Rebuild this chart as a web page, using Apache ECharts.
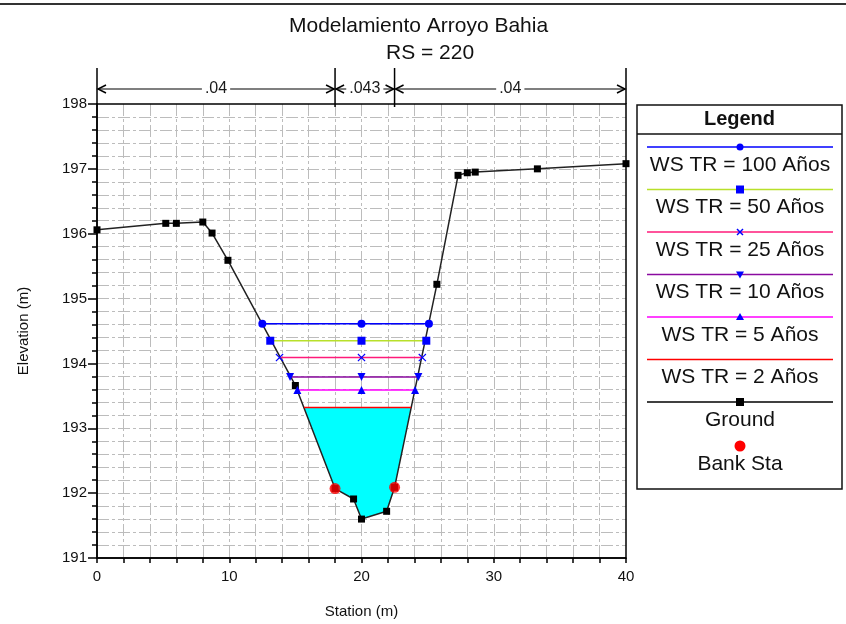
<!DOCTYPE html>
<html>
<head>
<meta charset="utf-8">
<script src="https://cdn.jsdelivr.net/npm/echarts@6/dist/echarts.min.js"></script>
<style>
  html, body { margin: 0; padding: 0; background: #fff; }
  #main { width: 846px; height: 624px; }
</style>
</head>
<body>
<div id="main"></div>
<script>
// ground profile (station m, elevation m)
var groundX = [0, 5.2, 6, 8, 8.7, 9.9, 15, 18, 19.4, 20, 21.9, 22.5, 25.7, 27.3, 28, 28.6, 33.3, 40];
var groundY = [196.06, 196.16, 196.16, 196.18, 196.01, 195.59, 193.66, 192.07, 191.91, 191.6, 191.72, 192.09, 195.22, 196.9, 196.94, 196.95, 197.0, 197.08];

// bank stations
var bankX = [18, 22.5];
var bankY = [192.07, 192.09];

// water surfaces per return period
var wsNames = ['WS TR = 100 Años', 'WS TR = 50 Años', 'WS TR = 25 Años', 'WS TR = 10 Años', 'WS TR = 5 Años', 'WS TR = 2 Años'];
var wsElev  = [194.61, 194.35, 194.09, 193.79, 193.59, 193.32];
var wsLeft  = [12.5, 13.1, 13.8, 14.6, 15.15, 15.65];
var wsRight = [25.1, 24.9, 24.6, 24.3, 24.05, 23.75];
var wsMid = 20;

// manning n breaks across the top
var nBreaks = [0, 18, 22.5, 40];
var nValues = ['.04', '.043', '.04'];

var FONT = 'Liberation Sans, Arial, sans-serif';
var wsColors  = ['#0000ff', '#b8e02a', '#ff1a7a', '#8a0aa0', '#ff00ff', '#ff0000'];
var wsSymbols = ['circle', 'rect', 'path://M0,1L1,0L5,4L9,0L10,1L6,5L10,9L9,10L5,6L1,10L0,9L4,5Z', 'triangle', 'triangle', 'none'];
var wsRotate  = [0, 0, 0, 180, 0, 0];

var myChart = echarts.init(document.getElementById('main'));

var series = [];

// cyan fill of lowest water surface down to ground
var fillIdx = wsElev.length - 1;
series.push({
    type: 'custom',
    name: 'fill',
    silent: true,
    z: 1,
    data: [[wsLeft[fillIdx], wsElev[fillIdx]]],
    renderItem: function (params, api) {
        var pts = [api.coord([wsLeft[fillIdx], wsElev[fillIdx]])];
        groundX.forEach(function (x, i) {
            if (x > wsLeft[fillIdx] && x < wsRight[fillIdx]) pts.push(api.coord([x, groundY[i]]));
        });
        pts.push(api.coord([wsRight[fillIdx], wsElev[fillIdx]]));
        return { type: 'polygon', shape: { points: pts }, style: { fill: '#00ffff' } };
    }
});

// ground
series.push({
    type: 'line',
    name: 'Ground',
    z: 3,
    data: groundX.map(function (x, i) { return [x, groundY[i]]; }),
    symbol: 'rect',
    symbolSize: 7,
    itemStyle: { color: '#000' },
    lineStyle: { color: '#222', width: 1.5 }
});

// water surfaces
wsNames.forEach(function (name, i) {
    series.push({
        type: 'line',
        name: name,
        z: 4,
        data: [[wsLeft[i], wsElev[i]], [wsMid, wsElev[i]], [wsRight[i], wsElev[i]]],
        symbol: wsSymbols[i],
        symbolRotate: wsRotate[i],
        symbolSize: 8,
        showSymbol: wsSymbols[i] !== 'none',
        itemStyle: { color: '#0000ff' },
        lineStyle: { color: wsColors[i], width: 1.5 }
    });
});

// bank stations
series.push({
    type: 'scatter',
    name: 'Bank Sta',
    z: 5,
    data: bankX.map(function (x, i) { return [x, bankY[i]]; }),
    symbol: 'circle',
    symbolSize: 11,
    itemStyle: { color: '#ff0000' }
});

// manning n bar above the plot
series.push({
    type: 'custom',
    name: 'nbar',
    silent: true,
    clip: false,
    z: 6,
    data: [[0, 198]],
    renderItem: function (params, api) {
        var top = api.coord([0, 198])[1];
        var yTop = top - 36, yArr = top - 15;
        var kids = [];
        nBreaks.forEach(function (b, i) {
            var x = api.coord([b, 198])[0];
            var end = (i === 0 || i === nBreaks.length - 1);
            kids.push({ type: 'line', shape: { x1: x, y1: yTop, x2: x, y2: top + (end ? 0 : 3) },
                        style: { stroke: '#000', lineWidth: 1.5 } });
        });
        nValues.forEach(function (v, i) {
            var x1 = api.coord([nBreaks[i], 198])[0] + 1;
            var x2 = api.coord([nBreaks[i + 1], 198])[0] - 1;
            kids.push({ type: 'line', shape: { x1: x1, y1: yArr, x2: x2, y2: yArr }, style: { stroke: '#000', lineWidth: 1.2 } });
            kids.push({ type: 'polyline', shape: { points: [[x1 + 8, yArr - 4], [x1, yArr], [x1 + 8, yArr + 4]] }, style: { stroke: '#000', lineWidth: 1.5, fill: null } });
            kids.push({ type: 'polyline', shape: { points: [[x2 - 8, yArr - 4], [x2, yArr], [x2 - 8, yArr + 4]] }, style: { stroke: '#000', lineWidth: 1.5, fill: null } });
            kids.push({ type: 'text', x: (x1 + x2) / 2, y: yArr,
                        style: { text: v, fill: '#1a1a1a', font: '16px ' + FONT, align: 'center', verticalAlign: 'middle',
                                 backgroundColor: '#fff', padding: [0, 3] } });
        });
        return { type: 'group', children: kids };
    }
});

// legend drawn as boxed list (line sample above label)
var legendItems = [
    { name: wsNames[0], color: wsColors[0], marker: 'circle' },
    { name: wsNames[1], color: wsColors[1], marker: 'rect' },
    { name: wsNames[2], color: wsColors[2], marker: 'x' },
    { name: wsNames[3], color: wsColors[3], marker: 'down' },
    { name: wsNames[4], color: wsColors[4], marker: 'up' },
    { name: wsNames[5], color: wsColors[5], marker: null },
    { name: 'Ground', color: '#000', marker: 'ground' },
    { name: 'Bank Sta', color: null, marker: 'bank' }
];
var LX = 637, LY = 105, LW = 205, LH = 384;
var gfx = [
    { type: 'line', shape: { x1: 0, y1: 4, x2: 846, y2: 4 }, style: { stroke: '#333', lineWidth: 2 } },
    { type: 'rect', shape: { x: LX, y: LY, width: LW, height: LH }, style: { fill: '#fff', stroke: '#111', lineWidth: 1.5 } },
    { type: 'line', shape: { x1: LX, y1: 134, x2: LX + LW, y2: 134 }, style: { stroke: '#111', lineWidth: 1.5 } },
    { type: 'text', x: LX + LW / 2, y: 119, style: { text: 'Legend', font: 'bold 20px ' + FONT, fill: '#111', align: 'center', verticalAlign: 'middle' } }
];
legendItems.forEach(function (it, i) {
    var ly = 147 + i * 42.5;
    var cx = 740;
    if (it.marker === 'bank') ly = 446;
    if (it.color) {
        gfx.push({ type: 'line', shape: { x1: 647, y1: ly, x2: 833, y2: ly }, style: { stroke: it.color, lineWidth: 1.5 } });
    }
    var blue = '#0000ff';
    if (it.marker === 'circle') gfx.push({ type: 'circle', shape: { cx: cx, cy: ly, r: 3.5 }, style: { fill: blue } });
    if (it.marker === 'rect') gfx.push({ type: 'rect', shape: { x: cx - 4, y: ly - 4, width: 8, height: 8 }, style: { fill: blue } });
    if (it.marker === 'x') gfx.push({ type: 'polyline', shape: { points: [[cx - 3, ly - 3], [cx + 3, ly + 3]] }, style: { stroke: blue, lineWidth: 1.5 } },
                                    { type: 'polyline', shape: { points: [[cx - 3, ly + 3], [cx + 3, ly - 3]] }, style: { stroke: blue, lineWidth: 1.5 } });
    if (it.marker === 'down') gfx.push({ type: 'polygon', shape: { points: [[cx - 4, ly - 3], [cx + 4, ly - 3], [cx, ly + 4]] }, style: { fill: blue } });
    if (it.marker === 'up') gfx.push({ type: 'polygon', shape: { points: [[cx - 4, ly + 3], [cx + 4, ly + 3], [cx, ly - 4]] }, style: { fill: blue } });
    if (it.marker === 'ground') gfx.push({ type: 'rect', shape: { x: cx - 4, y: ly - 4, width: 8, height: 8 }, style: { fill: '#000' } });
    if (it.marker === 'bank') gfx.push({ type: 'circle', shape: { cx: cx, cy: ly, r: 5.5 }, style: { fill: '#ff0000' } });
    gfx.push({ type: 'text', x: cx, y: ly + 18, style: { text: it.name, font: '21px ' + FONT, fill: '#111', align: 'center', verticalAlign: 'middle' } });
});

var gridLine = { color: '#bcbcbc', width: 1, type: [12, 3, 3, 3] };

option = {
    animation: false,
    backgroundColor: '#fff',
    textStyle: { fontFamily: FONT },
    title: [
        { text: 'Modelamiento Arroyo Bahia', left: 289, top: 16, padding: 0,
          textStyle: { fontSize: 21, fontWeight: 'normal', color: '#111', fontFamily: FONT } },
        { text: 'RS = 220', left: 386, top: 43, padding: 0,
          textStyle: { fontSize: 21, fontWeight: 'normal', color: '#111', fontFamily: FONT } }
    ],
    grid: { left: 97, right: 220, top: 104, bottom: 66, show: true, borderColor: '#000', borderWidth: 1.5, z: 3 },
    xAxis: {
        type: 'value', min: 0, max: 40, interval: 2,
        name: 'Station (m)', nameLocation: 'middle', nameGap: 46,
        nameTextStyle: { fontSize: 15, color: '#111', fontFamily: FONT },
        axisLine: { onZero: false, lineStyle: { color: '#000', width: 1.5 } },
        axisTick: { length: 5, lineStyle: { color: '#000', width: 1.5 } },
        axisLabel: { interval: 0, margin: 11, fontSize: 15, color: '#111', fontFamily: FONT,
                     formatter: function (v) { return v % 10 === 0 ? String(v) : ''; } },
        splitLine: { show: true, showMinLine: false, showMaxLine: false, lineStyle: gridLine }
    },
    yAxis: {
        type: 'value', min: 191, max: 198, interval: 1,
        name: 'Elevation (m)', nameLocation: 'middle', nameGap: 66,
        nameTextStyle: { fontSize: 15, color: '#111', fontFamily: FONT },
        axisLine: { onZero: false, lineStyle: { color: '#000', width: 1.5 } },
        axisTick: { length: 9, lineStyle: { color: '#000', width: 1.5 } },
        minorTick: { show: true, splitNumber: 5, length: 5, lineStyle: { color: '#000', width: 1.5 } },
        axisLabel: { margin: 10, fontSize: 15, color: '#111', fontFamily: FONT },
        splitLine: { show: true, showMinLine: false, showMaxLine: false, lineStyle: gridLine },
        minorSplitLine: { show: true, lineStyle: gridLine }
    },
    graphic: gfx,
    series: series
};
myChart.setOption(option);
</script>
</body>
</html>
